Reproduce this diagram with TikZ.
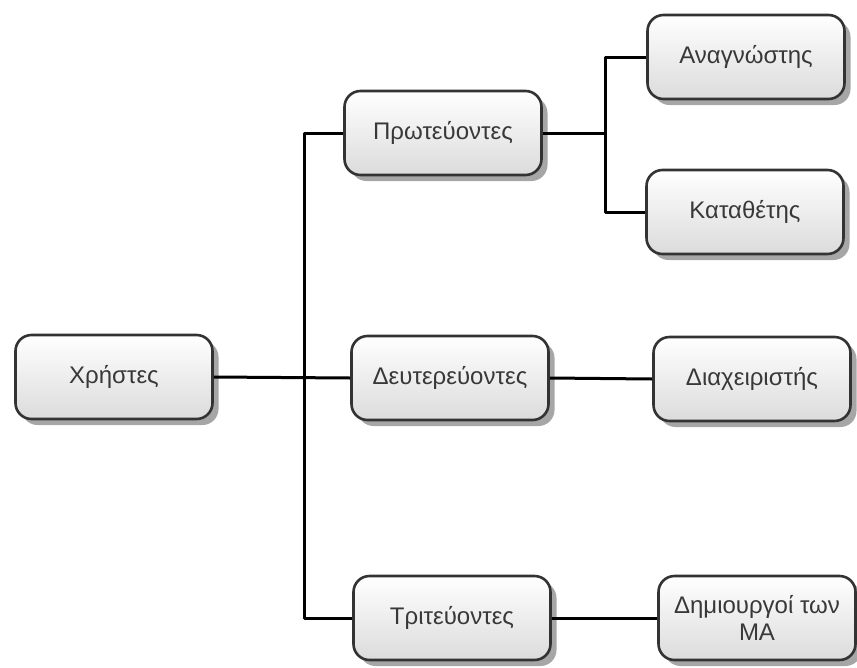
\documentclass[tikz,border=0pt]{standalone}
\usepackage{fontspec}
\setmainfont{Liberation Sans}
\usepackage{tikz}
\usetikzlibrary{shadows}

\begin{document}
\begin{tikzpicture}[x=1pt,y=-1pt,line width=3pt,
                    line join=round]
  \tikzstyle{every node}=[font=\fontsize{24}{27}\selectfont,text=black!78]
  \tikzstyle{box}=[draw=black!80,line width=2.6pt,rounded corners=16pt,
        minimum width=197pt,minimum height=84pt,inner sep=0pt,align=center,
        top color=white,bottom color=black!14,
        drop shadow={shadow xshift=6pt,shadow yshift=-6pt,fill=black!35,opacity=1}]
\useasboundingbox (0,0) rectangle (857,667);

\node [box] (users) at (114,377) {Χρήστες};
\node [box] (prim) at (443,133) {Πρωτεύοντες};
\node [box] (sec) at (450,378) {Δευτερεύοντες};
\node [box] (tert) at (452,618) {Τριτεύοντες};
\node [box] (read) at (746,57) {Αναγνώστης};
\node [box] (dep) at (745,212) {Καταθέτης};
\node [box] (adm) at (752,379) {Διαχειριστής};
\node [box] (cre) at (757,618) {Δημιουργοί των\\ΜΑ};

\coordinate (trunk) at (304,377);
\coordinate (fork) at (605,133);

\draw (users.east) -- (sec.west);
\draw (prim.west) -| (trunk) |- (tert.west);
\draw (prim.east) -- (fork);
\draw (read.west) -| (fork) |- (dep.west);
\draw (sec.east) -- (adm.west);
\draw (tert.east) -- (cre.west);

	\end{tikzpicture}
\end{document}
